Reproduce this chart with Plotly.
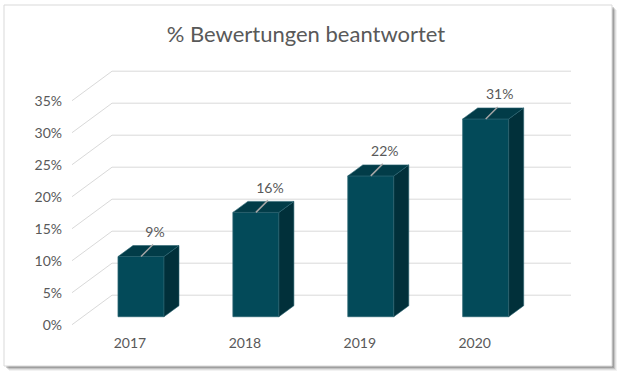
import plotly.graph_objects as go

# ---------------- data ----------------
years = ["2017", "2018", "2019", "2020"]
shares = [0.094, 0.163, 0.220, 0.309]
y_ticks = [0.00, 0.05, 0.10, 0.15, 0.20, 0.25, 0.30, 0.35]
y_tick_labels = ["0%", "5%", "10%", "15%", "20%", "25%", "30%", "35%"]
chart_title = "% Bewertungen beantwortet"

# ---------------- layout geometry (pixels) ----------------
W, H = 622, 381
X0_PX, PX_PER_CAT = 141.0, 114.9      # pixel x of first category centre, px per category
Y0_PX, PX_PER_UNIT = 316.7, 640.0     # pixel y of value 0 on bar front plane, px per 1.0
BAR_W_PX = 46
DEPTH_DX_PX, DEPTH_DY_PX = 15, 11     # bar depth offset (right, up)
WALL_FRONT_X_PX, WALL_BACK_X_PX, WALL_RIGHT_X_PX = 72, 112, 571
WALL_FRONT_DOWN_PX, WALL_BACK_UP_PX = 8, 21.5

FONT = "Lato"
TXT = "#595959"
C_FRONT, C_TOP, C_SIDE, C_EDGE = "#034A59", "#023C48", "#01303A", "#2C6572"


def px_x(px):
    return (px - X0_PX) / PX_PER_CAT


def dx(px):
    return px / PX_PER_CAT


def dy(px_up):
    return px_up / PX_PER_UNIT


xs = list(range(len(years)))
hw = dx(BAR_W_PX) / 2
ddx, ddy = dx(DEPTH_DX_PX), dy(DEPTH_DY_PX)

fig = go.Figure()

# front faces
fig.add_trace(go.Bar(x=xs, y=shares, width=2 * hw, marker=dict(color=C_FRONT, line=dict(color=C_EDGE, width=0.8)),
                     hoverinfo="skip"))

# side and top faces
for i, v in zip(xs, shares):
    fig.add_trace(go.Scatter(
        x=[i + hw, i + hw + ddx, i + hw + ddx, i + hw, i + hw],
        y=[0, ddy, v + ddy, v, 0],
        mode="lines", fill="toself", fillcolor=C_SIDE, line=dict(color=C_EDGE, width=0.6), hoverinfo="skip"))
    fig.add_trace(go.Scatter(
        x=[i - hw, i + hw, i + hw + ddx, i - hw + ddx, i - hw],
        y=[v, v, v + ddy, v + ddy, v],
        mode="lines", fill="toself", fillcolor=C_TOP, line=dict(color=C_EDGE, width=0.6), hoverinfo="skip"))
    # leader line
    fig.add_trace(go.Scatter(
        x=[i, i + dx(12)], y=[v, v + dy(12)], mode="lines",
        line=dict(color="#A6A6A6", width=1.5), hoverinfo="skip"))

# data labels
fig.add_trace(go.Scatter(
    x=[i + dx(14) for i in xs], y=[v + dy(23) for v in shares],
    text=[f"{round(v * 100):.0f}%" for v in shares], mode="text", textposition="middle center",
    textfont=dict(family=FONT, size=14, color=TXT), hoverinfo="skip"))

# category labels
fig.add_trace(go.Scatter(
    x=[i + dx(-11) for i in xs], y=[dy(-27.5)] * len(xs), text=years, mode="text",
    textposition="middle center", textfont=dict(family=FONT, size=14, color=TXT), hoverinfo="skip"))

# value axis labels
fig.add_trace(go.Scatter(
    x=[px_x(62)] * len(y_ticks), y=[t + dy(-10) for t in y_ticks], text=y_tick_labels, mode="text",
    textposition="middle left", textfont=dict(family=FONT, size=14, color=TXT), hoverinfo="skip"))

shapes = []
# chart frame with shadow
fx0, fx1, fy0, fy1 = 4, 612, 5, 366
for off, alpha in [(5, 0.05), (4, 0.08), (3, 0.12), (2, 0.18)]:
    shapes.append(dict(type="rect", xref="paper", yref="paper", layer="below",
                       x0=(fx0 + off) / W, x1=(fx1 + off) / W, y0=1 - (fy1 + off) / H, y1=1 - (fy0 + off) / H,
                       fillcolor=f"rgba(0,0,0,{alpha})", line=dict(width=0)))
shapes.append(dict(type="rect", xref="paper", yref="paper", layer="below",
                   x0=fx0 / W, x1=fx1 / W, y0=1 - fy1 / H, y1=1 - fy0 / H,
                   fillcolor="white", line=dict(color="#D9D9D9", width=1)))

# gridlines (side wall diagonal + back wall)
for t in y_ticks:
    xf, yf = px_x(WALL_FRONT_X_PX), t - dy(WALL_FRONT_DOWN_PX)
    xb, yb = px_x(WALL_BACK_X_PX), t + dy(WALL_BACK_UP_PX)
    xr = px_x(WALL_RIGHT_X_PX)
    shapes.append(dict(type="path", xref="x", yref="y", layer="below",
                       path=f"M {xf},{yf} L {xb},{yb} L {xr},{yb}",
                       line=dict(color="#D9D9D9", width=1)))

fig.update_layout(
    width=W, height=H, margin=dict(l=0, r=0, t=0, b=0),
    paper_bgcolor="white", plot_bgcolor="rgba(0,0,0,0)",
    showlegend=False, hovermode=False,
    xaxis=dict(range=[px_x(0), px_x(W)], visible=False, fixedrange=True),
    yaxis=dict(range=[(Y0_PX - H) / PX_PER_UNIT, Y0_PX / PX_PER_UNIT], visible=False, fixedrange=True),
    title=dict(text=chart_title, x=306 / W, xanchor="center", y=1 - 34 / H, yanchor="middle",
               font=dict(family=FONT, size=22, color=TXT)),
    shapes=shapes,
)

fig.write_html(
    "out.html",
    config={"displayModeBar": False},
    post_script="document.body.style.margin='0';document.body.style.overflow='hidden';",
)
